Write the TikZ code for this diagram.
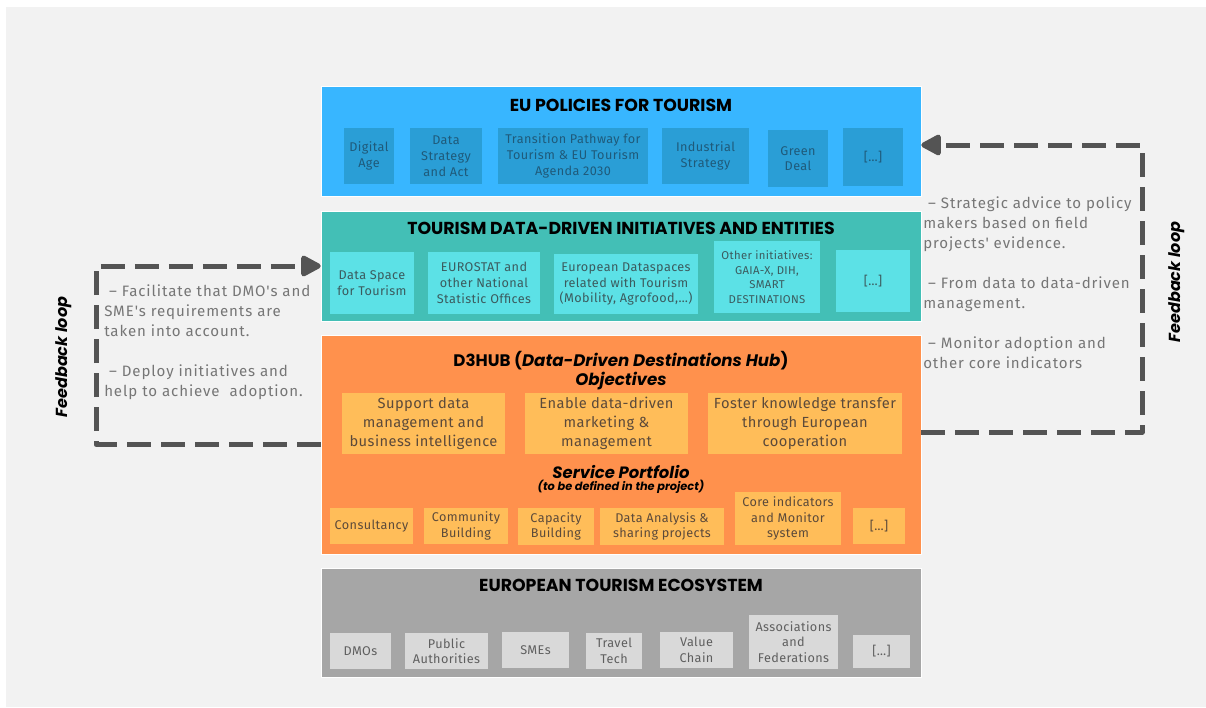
\documentclass[tikz,border=0pt]{standalone}
\usepackage{fontspec}
\setmainfont{Fira Sans}[LetterSpace=3]
\newfontfamily\sidefont{Fira Sans}[LetterSpace=6]
\newfontfamily\headfont{Poppins}
\usetikzlibrary{arrows.meta}
\definecolor{bggray}{HTML}{F2F2F2}
\definecolor{polblue}{HTML}{38B6FF}
\definecolor{polbluedark}{HTML}{2A9ED6}
\definecolor{poltext}{HTML}{1F5A7A}
\definecolor{initeal}{HTML}{43BFB6}
\definecolor{inicyan}{HTML}{5CE1E6}
\definecolor{initext}{HTML}{3B5B5E}
\definecolor{huborange}{HTML}{FF914D}
\definecolor{hubyellow}{HTML}{FFBD59}
\definecolor{hubtext}{HTML}{5C4A3A}
\definecolor{ecogray}{HTML}{A6A6A6}
\definecolor{ecolight}{HTML}{D9D9D9}
\definecolor{ecotext}{HTML}{5F5F5F}
\definecolor{loopgray}{HTML}{545454}
\definecolor{sidetext}{HTML}{767676}
\begin{document}
\begin{tikzpicture}[x=0.75pt,y=-0.75pt,line join=round,
  panel/.style={minimum width=600*0.75pt,inner sep=0pt,draw=white,line width=0.4pt},
  title/.style={font=\headfont\bfseries\fontsize{13}{14.5}\selectfont,align=center,inner sep=0pt},
  cell/.style={inner sep=0pt,align=center,font=\fontsize{9.5}{11.8}\selectfont},
  polbox/.style={cell,fill=polbluedark,text=poltext},
  inibox/.style={cell,fill=inicyan,text=initext},
  hubbox/.style={cell,fill=hubyellow,text=hubtext},
  ecobox/.style={cell,fill=ecolight,text=ecotext},
  side/.style={anchor=north west,align=left,inner sep=0pt,text=sidetext,font=\sidefont\fontsize{11.3}{15}\selectfont},
  fbline/.style={draw=loopgray,line width=3.75pt,dash pattern=on 18pt off 7.5pt,-{Triangle[length=17pt,width=17pt,round]}},
  fblabel/.style={rotate=90,inner sep=0pt,font=\headfont\bfseries\itshape\fontsize{12}{14}\selectfont}]
\useasboundingbox (0,0) rectangle (1206,707);
\fill[bggray] (6,7) rectangle (1206,707);

% layers
\node[panel,fill=polblue,minimum height=110*0.75pt] (pol) at (621,141) {};
\node[panel,fill=initeal,minimum height=110*0.75pt] (ini) at (621,266) {};
\node[panel,fill=huborange,minimum height=219*0.75pt] (hub) at (621,444.5) {};
\node[panel,fill=ecogray,minimum height=109*0.75pt] (eco) at (621,622.5) {};

\node[title] (poltitle) at (621,105) {EU POLICIES FOR TOURISM};
\node[title] (inititle) at (621,228) {TOURISM DATA-DRIVEN INITIATIVES AND ENTITIES};
\node[title,font=\headfont\bfseries\fontsize{12.5}{14.5}\selectfont] (hubtitle) at (621,370.5) {D3HUB (\textit{Data-Driven Destinations Hub})\\\textit{Objectives}};
\node[title,font=\headfont\bfseries\itshape\fontsize{12.3}{14}\selectfont] (srvtitle) at (621,472) {Service Portfolio};
\node[title,font=\headfont\bfseries\itshape\fontsize{8.5}{9}\selectfont] (srvnote) at (621,487) {(to be defined in the project)};
\node[title] (ecotitle) at (621,585) {EUROPEAN TOURISM ECOSYSTEM};

% inner boxes
\foreach \n/\xa/\ya/\xb/\yb/\t in {dig/344/128/394/184/{Digital\\Age},
  dsa/410/128/482/184/{Data\\Strategy\\and Act},
  tpw/498/128/648/184/{Transition Pathway for\\Tourism \& EU Tourism\\Agenda 2030},
  ids/662/128/749/184/{Industrial\\Strategy},
  grd/768/130/828/187/{Green\\Deal},
  pmo/843/128/903/186/{[…]}}
  \node[polbox,minimum width=(\xb-\xa)*0.75pt,minimum height=(\yb-\ya)*0.75pt] (\n) at ({(\xa+\xb)/2},{(\ya+\yb)/2}) {\t};

\foreach \n/\xa/\ya/\xb/\yb/\t in {dst/330/252/414/314/{Data Space\\for Tourism},
  est/428/252/540/314/{EUROSTAT and\\other National\\Statistic Offices},
  eds/554/254/698/314/{European Dataspaces\\related with Tourism\\(Mobility, Agrofood,…)},
  imo/836/250/910/312/{[…]}}
  \node[inibox,minimum width=(\xb-\xa)*0.75pt,minimum height=(\yb-\ya)*0.75pt] (\n) at ({(\xa+\xb)/2},{(\ya+\yb)/2}) {\t};
\node[inibox,font=\fontsize{8.5}{11}\selectfont,minimum width=106*0.75pt,minimum height=72*0.75pt] (oin) at (767,277) {Other initiatives:\\GAIA-X, DIH,\\SMART\\DESTINATIONS};

\foreach \n/\xa/\ya/\xb/\yb/\t in {obs/342/393/505/454/{Support data\\management and\\business intelligence},
  obe/525/393/688/454/{Enable data-driven\\marketing \&\\management},
  obf/708/393/902/454/{Foster knowledge transfer\\through European\\cooperation}}
  \node[hubbox,font=\fontsize{11}{14}\selectfont,minimum width=(\xb-\xa)*0.75pt,minimum height=(\yb-\ya)*0.75pt] (\n) at ({(\xa+\xb)/2},{(\ya+\yb)/2}) {\t};

\foreach \n/\xa/\ya/\xb/\yb/\t in {sco/330/508/413/544/{Consultancy},
  scb/424/508/508/544/{Community\\Building},
  scp/518/508/594/545/{Capacity\\Building},
  sda/600/508/724/545/{Data Analysis \&\\sharing projects},
  sci/735/492/841/545/{Core indicators\\and Monitor\\system},
  smo/853/508/905/544/{[…]}}
  \node[hubbox,minimum width=(\xb-\xa)*0.75pt,minimum height=(\yb-\ya)*0.75pt] (\n) at ({(\xa+\xb)/2},{(\ya+\yb)/2}) {\t};

\foreach \n/\xa/\ya/\xb/\yb/\t in {edm/330/633/391/669/{DMOs},
  epa/405/633/488/669/{Public\\Authorities},
  esm/502/632/569/668/{SMEs},
  ett/586/633/642/669/{Travel\\Tech},
  evc/660/632/733/668/{Value\\Chain},
  eaf/749/615/838/669/{Associations\\and\\Federations},
  emo/853/635/910/668/{[…]}}
  \node[ecobox,minimum width=(\xb-\xa)*0.75pt,minimum height=(\yb-\ya)*0.75pt] (\n) at ({(\xa+\xb)/2},{(\ya+\yb)/2}) {\t};

% feedback loops
\coordinate (lb) at (96,444.5);
\coordinate (lt) at (96,266);
\coordinate (rb) at (1142,432);
\coordinate (rt) at (1142,145);
\draw[fbline] (hub.west) -- (lb) -- (lt) -- (ini.west);
\draw[fbline] (hub.east |- rb) -- (rb) -- (rt) -- (pol.east |- rt);

\node[fblabel] (fbleft) at (64,357) {Feedback loop};
\node[fblabel] (fbright) at (1177,282) {Feedback loop};

\node[side] (lefttext) at (104,284) {\ – Facilitate that DMO's and\\SME's requirements are\\taken into account.\\[15pt]\ – Deploy initiatives and\\help to achieve\ \ adoption.};
\node[side] (righttext) at (923,196) {\ – Strategic advice to policy\\makers based on field\\projects' evidence.\\[15pt]\ – From data to data-driven\\management.\\[15pt]\ – Monitor adoption and\\other core indicators};
\end{tikzpicture}
\end{document}
